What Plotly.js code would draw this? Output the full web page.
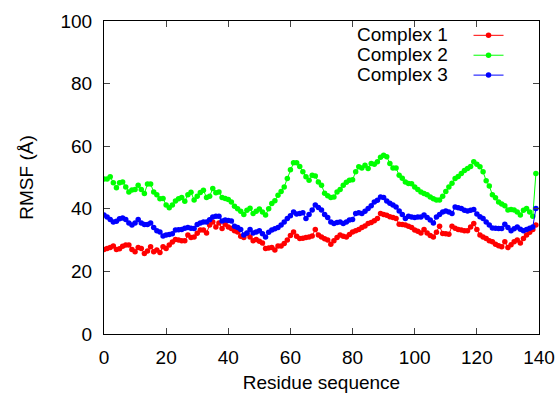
<!DOCTYPE html>
<html>
<head>
<meta charset="utf-8">
<script src="https://cdn.plot.ly/plotly-3.0.1.min.js"></script>
<style>html,body{margin:0;padding:0;background:#fff}#chart{width:559px;height:393px}</style>
</head>
<body>
<div id="chart"></div>
<script>
const residues = Array.from({length: 140}, (_, i) => i);

const seriesNames = ["Complex 1", "Complex 2", "Complex 3"];

const complex1 = [
27.0,27.3,27.6,28.1,27.0,27.2,28.0,28.4,28.4,27.0,
26.3,27.6,27.3,25.7,26.5,27.9,26.3,26.8,26.0,27.9,
27.3,28.4,29.4,30.2,30.0,29.8,29.8,31.6,30.8,31.0,
32.2,33.2,33.2,32.3,34.8,35.8,34.2,35.5,33.7,35.1,
34.2,33.7,33.0,32.6,31.2,30.8,32.1,31.0,29.8,30.2,
29.6,29.1,27.3,27.5,27.6,26.8,28.1,28.1,28.9,30.0,
31.5,32.6,31.2,30.5,30.6,30.8,31.0,31.3,33.4,31.6,
31.0,30.4,30.0,28.7,29.8,30.8,31.6,31.2,31.0,31.8,
32.6,33.0,33.4,34.0,34.5,35.3,35.6,36.2,36.9,38.5,
38.2,37.9,37.5,37.2,36.9,35.1,35.0,34.8,34.4,34.0,
33.2,32.8,32.3,33.4,32.3,31.5,31.0,32.5,34.4,32.1,
32.0,31.9,34.4,33.8,33.4,33.2,33.0,33.0,34.2,35.3,
33.4,31.6,31.0,30.5,29.8,29.5,28.7,28.2,27.9,29.5,
27.6,28.5,29.5,30.0,29.1,30.5,31.6,32.5,33.4,34.8
];

const complex2 = [
49.5,49.5,50.2,48.3,46.7,48.3,48.6,47.0,45.4,46.0,
46.2,47.5,46.2,44.9,47.9,47.9,45.4,44.5,43.2,43.3,
41.2,40.3,41.2,42.5,43.2,43.6,42.4,44.5,45.3,42.8,
44.0,45.2,45.9,43.6,44.0,46.5,45.1,45.4,43.6,43.3,
43.0,42.2,40.8,40.0,39.2,38.2,39.5,40.2,38.5,39.2,
39.9,39.0,38.0,40.0,41.7,42.6,44.3,45.5,47.0,49.7,
52.5,54.7,54.7,53.5,51.8,50.2,49.1,50.7,50.5,48.6,
47.5,45.0,44.2,43.6,43.8,45.4,46.2,47.5,48.5,49.1,
49.3,51.8,53.4,53.0,53.9,52.9,54.5,54.2,55.0,56.5,
57.1,56.6,54.5,53.0,53.0,50.7,49.8,48.6,48.1,48.0,
47.0,46.2,45.4,44.9,44.5,43.8,43.2,42.8,42.8,44.0,
45.5,47.0,48.2,49.7,50.3,51.3,52.2,52.9,53.5,55.0,
54.2,53.4,51.8,49.0,47.3,44.5,43.5,42.2,41.5,41.0,
39.6,39.8,39.6,39.0,38.0,39.5,40.1,39.0,37.6,51.3
];

const complex3 = [
38.0,37.4,36.6,35.8,36.0,36.8,37.1,36.6,35.5,34.8,
35.5,36.6,35.5,35.0,35.0,35.5,34.0,33.0,32.6,31.3,
31.6,31.8,32.0,33.2,33.3,33.4,33.8,34.0,33.8,33.7,
35.0,35.5,35.8,35.8,36.5,37.4,37.6,37.6,36.1,36.4,
36.3,36.1,34.4,34.0,33.4,31.6,32.3,33.4,32.3,32.6,
33.0,32.0,31.0,32.5,33.2,33.6,34.0,34.8,35.8,36.9,
37.8,39.0,38.3,38.5,38.7,36.9,38.2,39.6,41.2,40.4,
39.6,38.2,37.2,35.8,35.3,35.6,35.8,35.3,35.8,36.4,
36.6,38.5,38.7,38.5,39.2,40.1,41.0,42.2,42.7,43.8,
43.6,42.5,41.8,41.2,40.6,39.3,38.2,36.9,37.6,37.4,
37.2,37.4,37.4,38.0,37.2,36.4,35.5,37.4,38.2,39.0,
39.3,39.0,38.5,40.6,40.3,40.1,39.5,39.3,39.5,39.8,
38.3,37.5,36.9,35.8,34.8,33.9,33.8,33.7,33.7,35.1,
34.0,33.0,33.6,34.2,33.5,33.0,33.4,33.8,34.2,40.1
];

const colors = ["#ff0000", "#00ff00", "#0000ff"];
const xTickVals = [0, 20, 40, 60, 80, 100, 120, 140];
const yTickVals = [0, 20, 40, 60, 80, 100];

const allSeries = [complex1, complex2, complex3];
const traces = allSeries.map((vals, k) => ({
  x: residues,
  y: vals,
  type: "scatter",
  mode: "lines+markers",
  name: "",
  line: {color: colors[k], width: 1},
  marker: {color: colors[k], size: 5.5}
}));

const FONT = "Liberation Sans, Arial, Helvetica, sans-serif";

const legendY = [0.958, 0.893, 0.829];
const annotations = seriesNames.map((n, k) => ({
  text: n, xref: "paper", yref: "paper", x: 0.796, y: legendY[k],
  xanchor: "right", yanchor: "middle", showarrow: false,
  font: {family: FONT, size: 19, color: "#000"}
}));

const layout = {
  width: 559, height: 393,
  margin: {l: 104, r: 20, t: 21, b: 59, pad: 0},
  paper_bgcolor: "#fff", plot_bgcolor: "#fff",
  font: {family: FONT, size: 19, color: "#000"},
  showlegend: true,
  legend: {
    x: 0.838, y: 1.002, xanchor: "left", yanchor: "top",
    bgcolor: "rgba(0,0,0,0)", font: {size: 13}, tracegroupgap: 0,
    itemwidth: 30
  },
  xaxis: {
    range: [0, 140], tickvals: xTickVals, ticks: "inside", ticklen: 6,
    showline: true, linecolor: "#000", linewidth: 1, mirror: "allticks",
    showgrid: false, zeroline: false, tickfont: {size: 19},
    ticklabelstandoff: 6,
    title: {text: "Residue sequence", font: {size: 19}, standoff: 8}
  },
  yaxis: {
    range: [0, 100], tickvals: yTickVals, ticks: "inside", ticklen: 6,
    showline: true, linecolor: "#000", linewidth: 1, mirror: "allticks",
    showgrid: false, zeroline: false, tickfont: {size: 19},
    ticklabelstandoff: 7,
    title: {text: "RMSF (Å)", font: {size: 19}, standoff: 21}
  },
  annotations: annotations
};

Plotly.newPlot("chart", traces, layout, {staticPlot: true, displayModeBar: false});
</script>
</body>
</html>
